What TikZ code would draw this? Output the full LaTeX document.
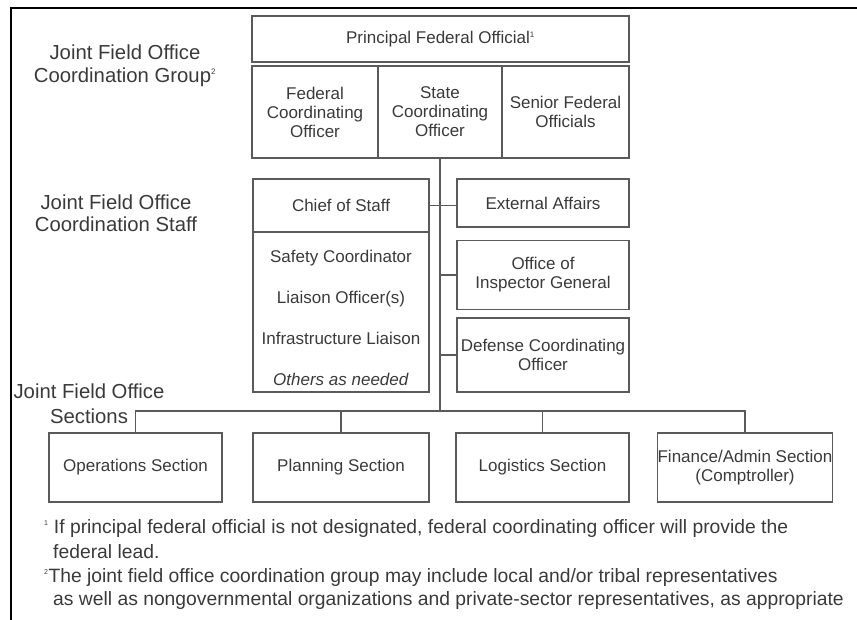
\documentclass[tikz,border=0pt]{standalone}
\usepackage{fontspec}
\setmainfont{Liberation Sans}
\usetikzlibrary{positioning}
\definecolor{boxline}{HTML}{5A5A5A}
\definecolor{inkgray}{HTML}{3A3A3A}

\begin{document}
\begin{tikzpicture}[x=1pt,y=-1pt,
  unit/.style={draw=boxline,line width=1.4pt,inner sep=0pt,align=center,text=inkgray,font=\fontsize{17}{19}\selectfont},
  sidelabel/.style={align=center,text=inkgray,inner sep=0pt,font=\fontsize{20.3}{22.5}\selectfont},
  note/.style={anchor=base west,text=inkgray,inner sep=0pt,font=\fontsize{19.3}{20}\selectfont},
  wire/.style={draw=boxline,line width=1.4pt}]
\useasboundingbox (0,0) rectangle (857,620);
\draw[line width=2.5pt] (857,8) -| (11,620);

\node[sidelabel] (grouplbl) at (125,66) {Joint Field Office\\Coordination Group\textsuperscript{\footnotesize 2}};
\node[sidelabel] (stafflbl) at (116,213) {Joint Field Office\\Coordination Staff};
\node[sidelabel] (sectlbl) at (89,404) {Joint Field Office\\[2.5pt]Sections};

\node[unit,minimum width=377,minimum height=46] (pfo) at (440.5,39) {Principal Federal Official\textsuperscript{\footnotesize 1}};
\node[unit,minimum width=126,minimum height=92] (fco) at (315,112) {Federal\\Coordinating\\Officer};
\node[unit,minimum width=124,minimum height=92] (sco) at (440,112) {State\\Coordinating\\Officer};
\node[unit,minimum width=127,minimum height=92] (sfo) at (565.5,112) {Senior Federal\\Officials};

\node[unit,minimum width=176,minimum height=53] (cos) at (341,205.5) {Chief of Staff};
\node[unit,minimum width=176,minimum height=160] (lst) at (341,312) {};
\node[align=center,text=inkgray,font=\fontsize{17}{41}\selectfont] (items) at (341,318) {Safety Coordinator\\Liaison Officer(s)\\Infrastructure Liaison\\\textit{Others as needed}};

\node[unit,minimum width=172,minimum height=48] (ext) at (543,203) {External Affairs};
\node[unit,minimum width=172,minimum height=69] (oig) at (543,275) {Office of\\Inspector General};
\node[unit,minimum width=172,minimum height=74] (dco) at (543,355) {Defense Coordinating\\Officer};

\node[unit,minimum width=173,minimum height=69] (ops) at (135.5,467.5) {Operations Section};
\node[unit,minimum width=176,minimum height=69] (plan) at (341,467.5) {Planning Section};
\node[unit,minimum width=173,minimum height=69] (log) at (542.5,467.5) {Logistics Section};
\node[unit,minimum width=174,minimum height=69] (fin) at (745,467.5) {Finance/Admin Section\\(Comptroller)};

\coordinate (bus) at (441,411);
\draw[wire] (sco.south) -- (sco.south |- bus);
\draw[wire] (cos.east) -- (cos.east -| ext.west);
\draw[wire] (oig.west -| sco.south) -- (oig.west);
\draw[wire] (dco.west -| sco.south) -- (dco.west);
\draw[wire] (ops.north) |- (bus) -| (fin.north);
\draw[wire] (plan.north) -- (plan.north |- bus);
\draw[wire] (log.north) -- (log.north |- bus);

\node[note] (note1) at (44,533) {\textsuperscript{\scriptsize 1} If principal federal official is not designated, federal coordinating officer will provide the};
\node[note] (note1b) at (53,558) {federal lead.};
\node[note] (note2) at (44,582) {\textsuperscript{\scriptsize 2}The joint field office coordination group may include local and/or tribal representatives};
\node[note] (note2b) at (53,605) {as well as nongovernmental organizations and private-sector representatives, as appropriate};
\end{tikzpicture}
\end{document}
